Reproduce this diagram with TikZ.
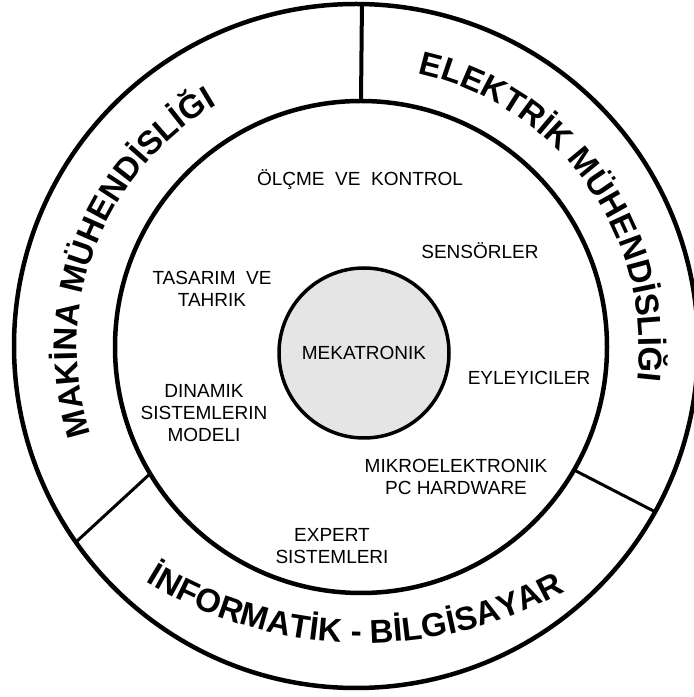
\documentclass[tikz,border=0pt]{standalone}
\usepackage{fontspec}
\setmainfont{Liberation Sans}
\newfontfamily\ringfont{Liberation Sans}
\usetikzlibrary{decorations.text}
\begin{document}
\begin{tikzpicture}[x=1pt,y=1pt,
  ring/.style={circle, draw, inner sep=0pt, outer sep=0pt, line width=4.5pt},
  divider/.style={line width=3pt},
  lbl/.style={font=\fontsize{19}{22}\selectfont, align=center, inner sep=0pt},
  ringtext/.style={decorate, decoration={text along path, text align=center,
    text={|\ringfont\bfseries\fontsize{33}{33}\selectfont|#1}}}
]
\useasboundingbox (0,0) rectangle (694,697);
\clip (0,0) rectangle (694,697);
\node[ring, minimum size=684pt] (outer) at (356,351) {};
\node[ring, minimum size=492pt] (inner) at (361,350) {};
\node[ring, line width=3.5pt, fill=black!10, minimum size=170pt,
      font=\fontsize{19}{22}\selectfont] (mek) at (364,344) {MEKATRONIK};
\draw[line width=4pt] (inner.90.7) -- (outer.89.5);
\draw[divider] (inner.211.7) -- (outer.215.8);
\draw[divider] (inner.330.2) -- (outer.331.6);
\node[lbl] (olcme) at (360,517) {ÖLÇME\ \ VE\ \ KONTROL};
\node[lbl] (sensor) at (480,446) {SENSÖRLER};
\node[lbl] (tasarim) at (212,408) {TASARIM\ \ VE\\TAHRIK};
\node[lbl] (eyleyici) at (529,319) {EYLEYICILER};
\node[lbl] (dinamik) at (204,284) {DINAMIK\\SISTEMLERIN\\MODELI};
\node[lbl] (mikro) at (456,220) {MIKROELEKTRONIK\\PC HARDWARE};
\node[lbl] (expert) at (332,151) {EXPERT\\SISTEMLERI};
\path[ringtext={MAKİNA MÜHENDİSLİĞI}] ([shift={(358,349)}]214:281pt) arc[start angle=214, end angle=104, radius=281pt];
\path[ringtext={ELEKTRİK MÜHENDİSLİĞI}] ([shift={(358,349)}]91:281pt) arc[start angle=91, end angle=-20, radius=281pt];
\path[ringtext={İNFORMATİK - BİLGİSAYAR}] ([shift={(364,470)}]228.65:416pt) arc[start angle=228.65, end angle=308.65, radius=416pt];
\end{tikzpicture}
\end{document}
